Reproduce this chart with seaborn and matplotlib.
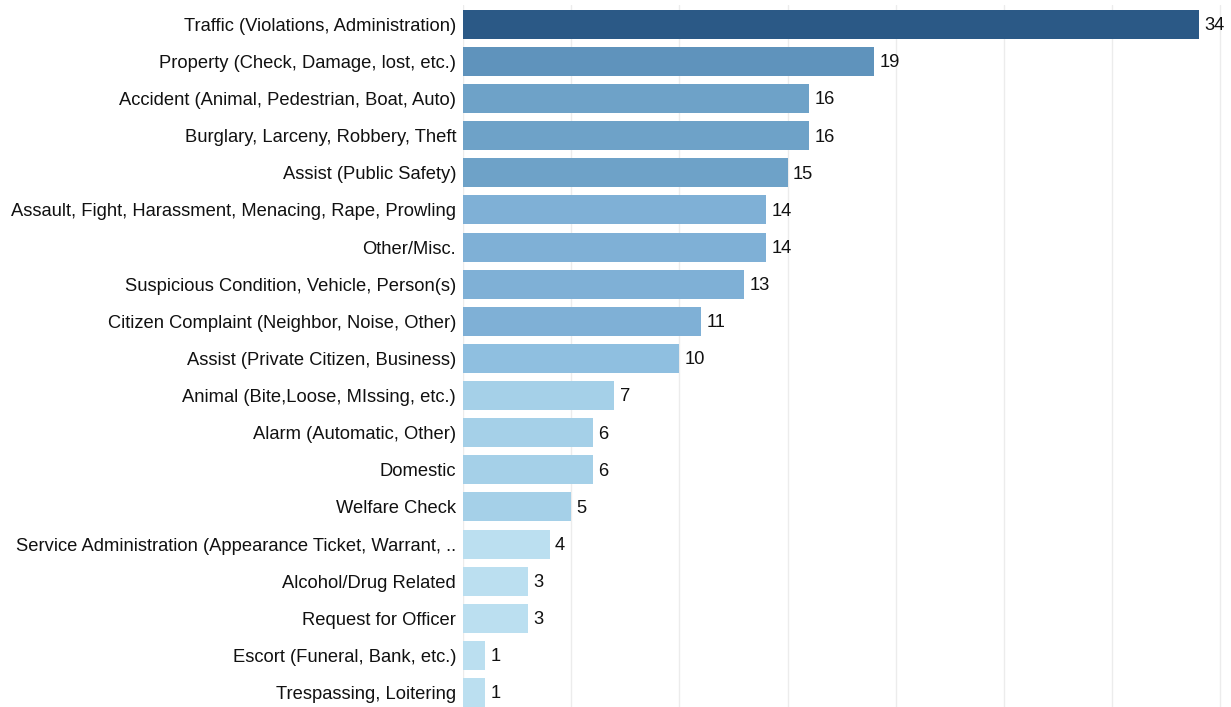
import matplotlib
matplotlib.use("Agg")
import matplotlib.pyplot as plt
import seaborn as sns
import pandas as pd

categories = [
    "Traffic (Violations, Administration)",
    "Property (Check, Damage, lost, etc.)",
    "Accident (Animal, Pedestrian, Boat, Auto)",
    "Burglary, Larceny, Robbery, Theft",
    "Assist (Public Safety)",
    "Assault, Fight, Harassment, Menacing, Rape, Prowling",
    "Other/Misc.",
    "Suspicious Condition, Vehicle, Person(s)",
    "Citizen Complaint (Neighbor, Noise, Other)",
    "Assist (Private Citizen, Business)",
    "Animal (Bite,Loose, MIssing, etc.)",
    "Alarm (Automatic, Other)",
    "Domestic",
    "Welfare Check",
    "Service Administration (Appearance Ticket, Warrant, ..",
    "Alcohol/Drug Related",
    "Request for Officer",
    "Escort (Funeral, Bank, etc.)",
    "Trespassing, Loitering",
]
counts = [34, 19, 16, 16, 15, 14, 14, 13, 11, 10, 7, 6, 6, 5, 4, 3, 3, 1, 1]
bar_colors = [
    "#2b5986", "#5f93bc", "#6ea2c8", "#6ea2c8", "#6ea2c8",
    "#7fb0d6", "#7fb0d6", "#7fb0d6", "#7fb0d6", "#8fbfe0",
    "#a5d0e8", "#a5d0e8", "#a5d0e8", "#a5d0e8",
    "#bbdff0", "#bbdff0", "#bbdff0", "#bbdff0", "#bbdff0",
]

df = pd.DataFrame({"category": categories, "count": counts})

sns.set_style("white")
plt.rcParams["font.family"] = ["Liberation Sans", "DejaVu Sans"]

fig = plt.figure(figsize=(12.31, 7.07), dpi=100)
ax = fig.add_axes([463 / 1231, 0.0, 1 - 463 / 1231, 1 - 5 / 707])

sns.barplot(data=df, y="category", x="count", hue="category",
            palette=bar_colors, legend=False, width=0.78,
            order=categories, hue_order=categories, ax=ax, saturation=1,
            linewidth=0)

ax.set_xlim(0, 35.5)
ax.set_ylim(18.39, -0.52)
ax.set_xticks(range(0, 36, 5))
ax.set_xticklabels([])
ax.xaxis.grid(True, color="#ececec", linewidth=1)
ax.set_axisbelow(True)
ax.tick_params(axis="both", length=0)
ax.tick_params(axis="y", labelsize=13.2, pad=5, labelcolor="#111111")
for s in ax.spines.values():
    s.set_visible(False)
ax.set_xlabel("")
ax.set_ylabel("")

for i, v in enumerate(counts):
    ax.annotate(str(v), xy=(v, i), xytext=(4, -1), textcoords="offset points",
                va="center", ha="left", fontsize=13.2, color="#111111")

fig.savefig("out.png", dpi=100)
